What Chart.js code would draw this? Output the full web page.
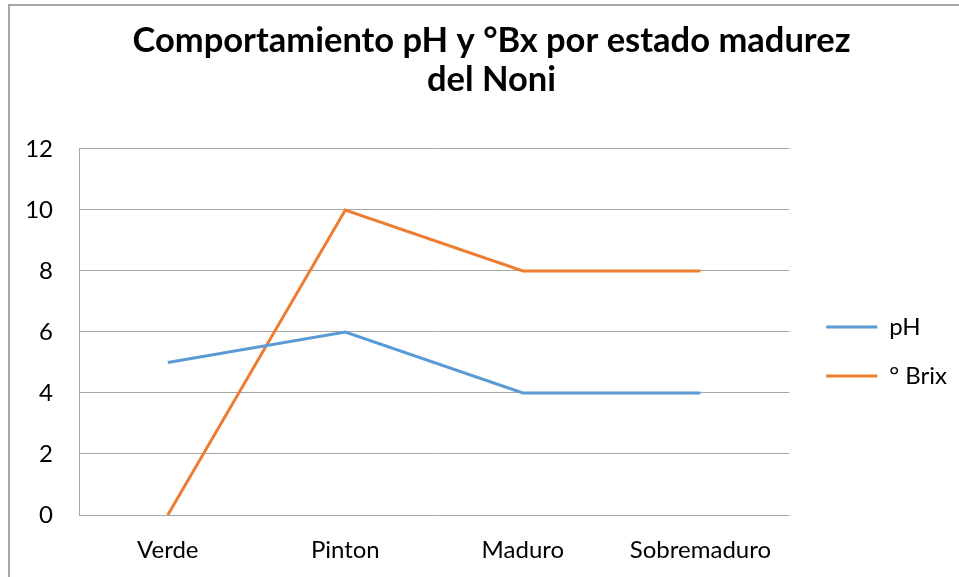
<!DOCTYPE html>
<html><head><meta charset="utf-8">
<script src="https://cdn.jsdelivr.net/npm/chart.js@4"></script>
<style>html,body{margin:0;padding:0;background:#fff;}canvas{display:block;}</style>
</head><body>
<canvas id="c" width="959" height="577"></canvas>
<script>
const categories = ['Verde', 'Pinton', 'Maduro', 'Sobremaduro'];
const phValues = [5, 6, 4, 4];
const brixValues = [0, 10, 8, 8];
const seriesNames = ['pH', '° Brix'];
const titleLines = ['Comportamiento pH y °Bx por estado madurez', 'del Noni'];
const yTicks = { min: 0, max: 12, step: 2 };

const FONT = 'Lato, "Open Sans", sans-serif';

const borderPlugin = {
  id: 'outerBorder',
  beforeDraw(chart) {
    const ctx = chart.ctx;
    ctx.save();
    ctx.fillStyle = '#fff';
    ctx.fillRect(0, 0, chart.width, chart.height);
    ctx.strokeStyle = '#a8a8a8';
    ctx.lineWidth = 2;
    ctx.strokeRect(9, 5, 2000, 2000);
    ctx.restore();
  },
  afterLayout(chart) {
    const lg = chart.legend;
    if (lg) { lg.top += 56; lg.bottom += 56; lg.left += 12; lg.right += 12; }
    const tb = chart.titleBlock;
    if (tb) { tb.left += 14; tb.right += 14; }
  }
};

new Chart(document.getElementById('c'), {
  type: 'line',
  data: {
    labels: categories,
    datasets: [
      { label: seriesNames[0], data: phValues, borderColor: '#5B9BD5', backgroundColor: '#5B9BD5', borderWidth: 3, pointRadius: 0, tension: 0 },
      { label: seriesNames[1], data: brixValues, borderColor: '#ED7D31', backgroundColor: '#ED7D31', borderWidth: 3, pointRadius: 0, tension: 0 }
    ]
  },
  options: {
    responsive: false,
    animation: false,
    layout: { padding: { left: 10, right: 14, top: 14, bottom: 0 } },
    plugins: {
      title: {
        display: true,
        text: titleLines,
        color: '#000',
        font: { family: FONT, size: 34.5, weight: 'bold', lineHeight: 1.13 },
        padding: { top: 7, bottom: 50 }
      },
      legend: {
        position: 'right',
        labels: {
          color: '#000',
          font: { family: FONT, size: 24 },
          boxWidth: 51,
          boxHeight: 3,
          padding: 25,
          generateLabels(chart) {
            return chart.data.datasets.map((ds, i) => ({
              text: ds.label, fillStyle: ds.borderColor, strokeStyle: ds.borderColor,
              lineWidth: 0, hidden: false, datasetIndex: i, fontColor: '#000'
            }));
          }
        }
      },
      tooltip: { enabled: false }
    },
    scales: {
      x: {
        offset: true,
        afterFit(scale) { scale.height = 62; },
        grid: { display: false, drawTicks: false },
        border: { display: false },
        ticks: { color: '#000', font: { family: FONT, size: 24 }, padding: 21, maxRotation: 0 }
      },
      y: {
        min: yTicks.min, max: yTicks.max,
        afterFit(scale) { scale.width = 69; },
        ticks: { stepSize: yTicks.step, color: '#000', font: { family: FONT, size: 24 }, padding: 26 },
        grid: { color: '#a6a6a6', lineWidth: 1, drawTicks: false },
        border: { display: true, color: '#a6a6a6', width: 1 }
      }
    }
  },
  plugins: [borderPlugin]
});
</script>
</body></html>
